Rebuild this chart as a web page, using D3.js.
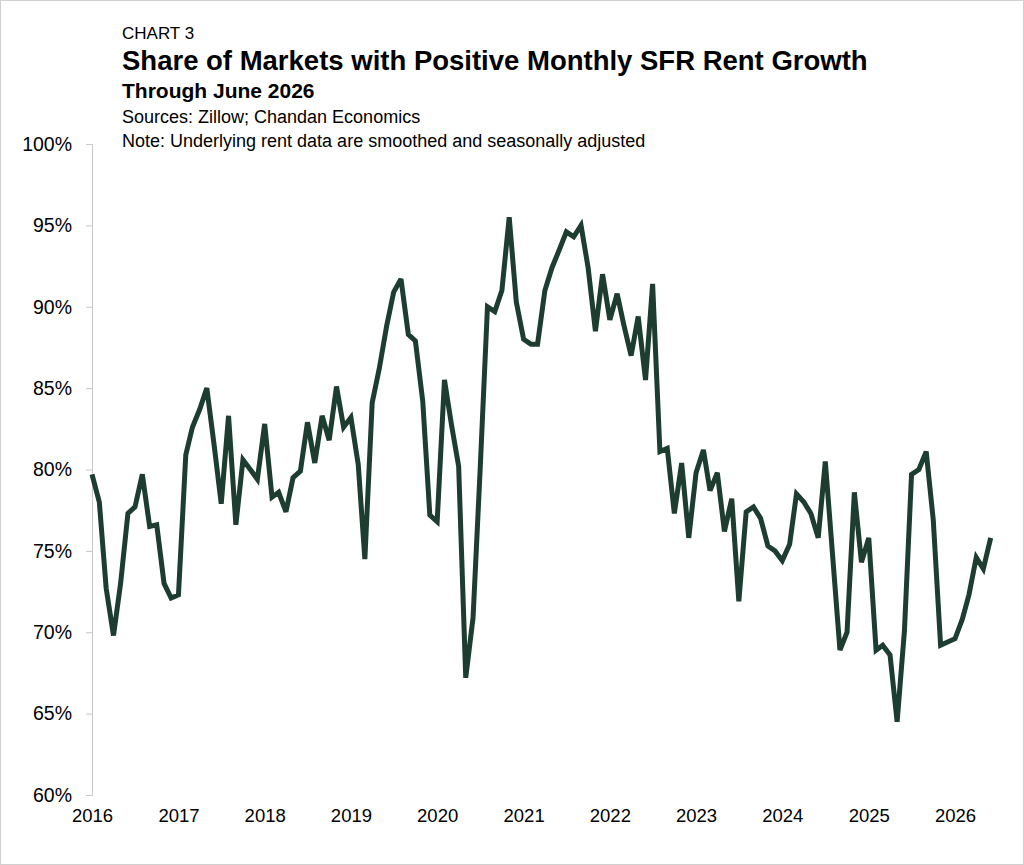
<!DOCTYPE html>
<html><head><meta charset="utf-8">
<script src="https://cdn.jsdelivr.net/npm/d3@7"></script>
<style>body{margin:0;background:#fff;font-family:"Liberation Sans",Arial,sans-serif}</style>
</head><body><svg id="c" width="1024" height="865"></svg>
<script>
const values = [
79.7,78,72.7,69.8,73,77.3,77.7,79.7,76.5,76.6,73,72.1,
72.3,80.9,82.6,83.7,85,81.5,77.9,83.3,76.6,80.6,80,79.4,
82.8,78.3,78.6,77.4,79.5,79.9,82.9,80.4,83.3,81.8,85.1,82.6,
83.2,80.3,74.5,84.1,86.2,88.8,90.9,91.7,88.3,87.9,84.2,77.2,
76.8,85.5,82.8,80.2,67.2,70.9,80,90,89.7,91,95.5,90.3,
88,87.7,87.7,91,92.4,93.5,94.6,94.3,95,92.4,88.5,92,
89.2,90.8,88.9,87,89.4,85.5,91.4,81.1,81.3,77.3,80.4,75.8,
79.8,81.2,78.7,79.8,76.2,78.2,71.9,77.4,77.7,77.0,75.3,75.0,
74.4,75.4,78.5,78.0,77.3,75.8,80.5,74.7,68.9,70.0,78.6,74.3,
75.8,68.9,69.2,68.6,64.5,70.1,79.7,80.0,81.1,76.9,69.2,69.4,
69.6,70.8,72.3,74.6,73.9,75.8];
const startYear = 2016;
const yTicks = [60,65,70,75,80,85,90,95,100];
const xYears = [2016,2017,2018,2019,2020,2021,2022,2023,2024,2025,2026];
const dates = values.map((v,i)=>new Date(startYear, i, 1));

const svg = d3.select("#c");
svg.append("rect").attr("x",0.5).attr("y",0.5).attr("width",1023).attr("height",864).attr("fill","#fff").attr("stroke","#d0d0d0");
const x = d3.scaleTime().domain([new Date(2016,0,1), new Date(2026,0,1)]).range([92,955]);
const y = d3.scaleLinear().domain([60,100]).range([795,144]);

const ya = svg.append("g").attr("transform","translate(92,0)")
  .call(d3.axisLeft(y).tickValues(yTicks).tickFormat(d=>d+"%").tickSize(6).tickPadding(14));
ya.select(".domain").attr("stroke","#c8c8c8");
ya.selectAll("line").attr("stroke","#c8c8c8");
ya.selectAll("text").attr("font-size",19.5).attr("fill","#000").attr("font-family","Liberation Sans, Arial");
const xa = svg.append("g").attr("transform","translate(0,795)")
  .call(d3.axisBottom(x).tickValues(xYears.map(yy=>new Date(yy,0,1))).tickFormat(d3.timeFormat("%Y")).tickSize(0).tickPadding(14));
xa.select(".domain").remove();
xa.selectAll("text").attr("font-size",18.5).attr("fill","#000").attr("font-family","Liberation Sans, Arial");

svg.append("path").datum(values).attr("fill","none").attr("stroke","#1c3d30").attr("stroke-width",5)
  .attr("stroke-linejoin","miter").attr("stroke-miterlimit",3)
  .attr("d", d3.line().x((d,i)=>x(dates[i])).y(d=>y(d)));

const t = [
 ["CHART 3",122,39,17,"normal"],
 ["Share of Markets with Positive Monthly SFR Rent Growth",122,70,27.5,"bold"],
 ["Through June 2026",122,98,21,"bold"],
 ["Sources: Zillow; Chandan Economics",122,123,18,"normal"],
 ["Note: Underlying rent data are smoothed and seasonally adjusted",122,147,18,"normal"]];
t.forEach(a=>svg.append("text").attr("x",a[1]).attr("y",a[2]).attr("font-size",a[3]).attr("font-weight",a[4]).text(a[0]));
</script></body></html>
